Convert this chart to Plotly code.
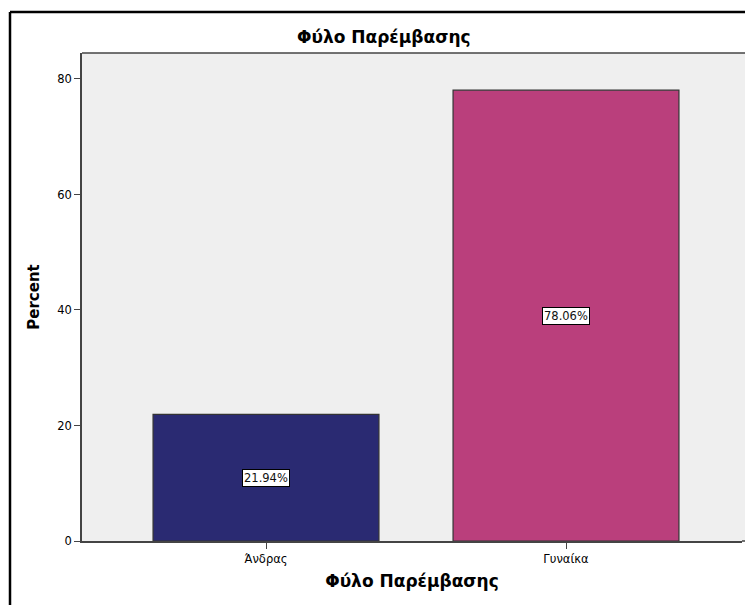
import plotly.graph_objects as go

categories = ["Άνδρας", "Γυναίκα"]
percents = [21.94, 78.06]
labels = ["21.94%", "78.06%"]
colors = ["#2a2a72", "#ba3f7c"]
y_ticks = [0, 20, 40, 60, 80]
title_text = "Φύλο Παρέμβασης"

W, H = 745, 605
ML, MT, MB, MR = 82, 53, 64, 3
pw, ph = W - ML - MR, H - MT - MB

fig = go.Figure()
fig.add_trace(go.Bar(
    x=[0, 1], y=percents, width=0.753,
    marker=dict(color=colors, line=dict(color="#333333", width=1.2)),
    hoverinfo="skip",
))

for i, (v, t) in enumerate(zip(percents, labels)):
    fig.add_annotation(x=i, y=v / 2, text=t, showarrow=False,
                       bgcolor="white", bordercolor="black", borderwidth=1, borderpad=1,
                       font=dict(family="DejaVu Sans", size=11.5, color="#111"))

def px_x(p):
    return (p - ML) / pw

def px_y(p):
    return (H - MB - p) / ph

# outer frame (top and left edges)
fig.add_shape(type="line", xref="paper", yref="paper",
              x0=px_x(10), x1=px_x(W), y0=px_y(12), y1=px_y(12),
              line=dict(color="black", width=2.5))
fig.add_shape(type="line", xref="paper", yref="paper",
              x0=px_x(10), x1=px_x(10), y0=px_y(12), y1=px_y(H),
              line=dict(color="black", width=2.5))
# extend plot background to the right window edge
fig.add_shape(type="rect", xref="paper", yref="paper",
              x0=1, x1=px_x(W + 2), y0=0, y1=1,
              fillcolor="#efefef", line=dict(width=0), layer="below")
# top edge of the plot area
fig.add_shape(type="line", xref="paper", yref="paper",
              x0=0, x1=px_x(W + 2), y0=1, y1=1,
              line=dict(color="#444", width=1.5))
# bottom axis line extension
fig.add_shape(type="line", xref="paper", yref="paper",
              x0=1, x1=px_x(W + 2), y0=0, y1=0,
              line=dict(color="#444", width=1.5))

fig.add_annotation(xref="paper", yref="paper", x=px_x(384), y=px_y(37),
                   text="<b>" + title_text + "</b>", showarrow=False,
                   font=dict(family="DejaVu Sans", size=17, color="black"),
                   xanchor="center", yanchor="middle")

xmin = -(266 - ML) / 300
xmax = xmin + pw / 300

fig.update_layout(
    width=W, height=H,
    margin=dict(l=ML, r=MR, t=MT, b=MB),
    paper_bgcolor="white", plot_bgcolor="#efefef",
    showlegend=False,
    xaxis=dict(range=[xmin, xmax], tickvals=[0, 1], ticktext=categories,
               showline=True, linecolor="#444", linewidth=1.5, mirror=False,
               ticks="outside", ticklen=6, tickcolor="#444",
               showgrid=False, zeroline=False,
               tickfont=dict(family="DejaVu Sans", size=11.5, color="black"),
               title=dict(text="<b>" + title_text + "</b>", standoff=11,
                          font=dict(family="DejaVu Sans", size=17, color="black"))),
    yaxis=dict(range=[0, 84.5], tickvals=y_ticks,
               showline=True, linecolor="#444", linewidth=1.5, mirror=False,
               ticks="outside", ticklen=6, tickcolor="#444",
               showgrid=False, zeroline=False,
               tickfont=dict(family="DejaVu Sans", size=11.5, color="black"),
               title=dict(text="<b>Percent</b>", standoff=14,
                          font=dict(family="DejaVu Sans", size=15, color="black"))),
)

fig.write_html("out.html", config={"displayModeBar": False})
